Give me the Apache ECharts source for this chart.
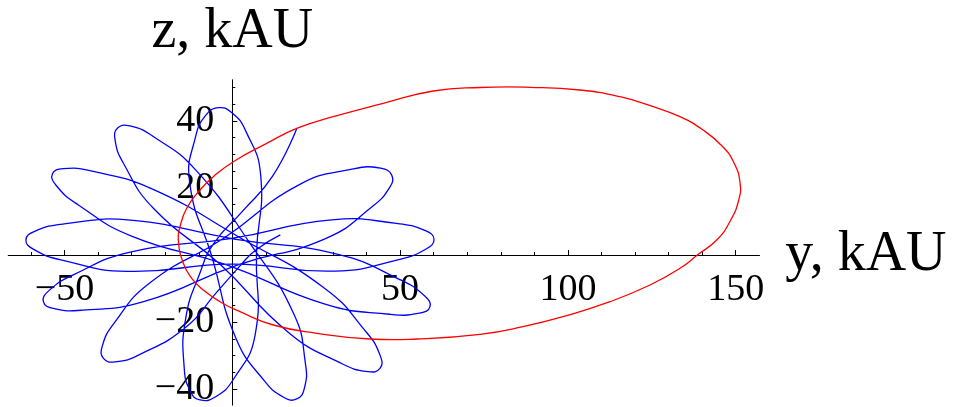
<!DOCTYPE html>
<html>
<head>
<meta charset="utf-8">
<script src="https://cdn.jsdelivr.net/npm/echarts@6/dist/echarts.min.js"></script>
<style>
  html, body { margin: 0; padding: 0; background: #ffffff; }
  #chart { width: 961px; height: 407px; }
</style>
</head>
<body>
<div id="chart"></div>
<script>
// Axis ticks (kAU)
const xMajorTicks = [-50, 50, 100, 150];
const xMinorTicks = [-60, -40, -30, -20, -10, 10, 20, 30, 40, 60, 70, 80, 90, 110, 120, 130, 140];
const yMajorTicks = [-40, -20, 20, 40];
const yMinorTicks = [-35, -30, -25, -15, -10, -5, 5, 10, 15, 25, 30, 35, 45, 50];

// Axis ranges (kAU)
const yRange = [-66.75, 157.03];
const zRange = [-44.7, 52.15];

// Rosette orbit before the transition (y, z in kAU), petal by petal
const blueTrack = [
  [14.3, 6.0], [7.0, 1.5], [2.5, -3.0], [-5.0, -11.5],
  [-13.78, -21.45], [-27.66, -29.70], [-34.95, -31.84], [-38.4, -30.8], [-38.77, -27.22], [-35.32, -20.46], [-24.62, -8.35],
  [-2.56, 5.00],
  [19.71, 20.83], [36.10, 25.65], [44.17, 25.87], [47.5, 23.8], [46.90, 20.18], [41.54, 14.29], [27.42, 4.73],
  [1.47, -2.99],
  [-26.20, -13.85], [-44.79, -16.44], [-53.36, -15.91], [-56.3, -13.9], [-54.74, -10.69], [-47.55, -6.00], [-30.10, 0.95],
  [-0.62, 4.85],
  [29.58, 10.48], [48.95, 9.42], [57.54, 7.24], [60.1, 4.7], [57.86, 1.86], [49.61, -1.36], [30.52, -4.78],
  [0.01, -2.70],
  [-31.19, -4.88], [-50.74, -1.52], [-59.19, 1.67], [-61.5, 4.5], [-58.89, 7.05], [-50.12, 9.26], [-30.31, 10.38],
  [0.62, 4.75],
  [31.51, 0.17], [49.75, -7.25], [57.27, -12.14], [58.9, -15.4], [55.81, -17.34], [46.85, -17.65], [27.39, -14.57],
  [-1.42, -3.01],
  [-29.84, 5.58], [-46.09, 15.06], [-52.53, 20.79], [-53.6, 24.2], [-50.39, 25.75], [-41.81, 24.98], [-23.76, 19.62],
  [2.44, 5.08],
  [27.27, -9.74], [39.80, -22.84], [44.10, -30.06], [44.0, -33.8], [40.38, -34.76], [32.36, -32.24], [16.73, -23.06],
  [-3.57, -2.85],
  [-23.30, 13.69], [-32.37, 27.19], [-34.95, 34.39], [-34.1, 37.9], [-30.53, 38.45], [-23.55, 35.33], [-10.80, 25.21],
  [4.81, 4.15],
  [18.16, -17.20], [21.79, -32.35], [21.45, -39.82], [19.2, -42.9], [15.41, -42.46], [9.69, -37.65], [1.04, -24.70],
  [-6.05, -0.58],
  [-12.68, 21.41], [-10.90, 35.44], [-7.76, 41.81], [-4.2, 43.9], [-0.30, 42.55], [4.02, 36.92], [8.48, 23.49],
  [7.2, 0.6],
  [6.83, -23.63], [0.34, -37.03], [-5.12, -42.32], [-9.6, -43.2], [-12.44, -40.73], [-14.32, -33.83], [-13.93, -19.11],
  [-9.5, -5.0], [-5.5, 3.5], [3.0, 13.0], [12.0, 23.5], [19.2, 37.7]
];

// Wide orbit after the transition (y, z in kAU); a closed loop starting where the rosette ends
const redTrack = [
  [19.19, 37.75], [30.10, 41.21], [44.99, 45.20], [59.89, 48.87], [73.81, 49.91],
  [88.71, 49.97], [103.61, 49.17], [115.52, 47.17], [125.45, 44.19], [133.40, 41.21],
  [140.27, 37.25], [145.93, 32.48], [149.51, 27.41], [151.30, 21.45], [150.90, 16.40],
  [148.40, 10.20], [144.34, 4.47], [138.86, 0.21], [133.40, -3.96], [124.46, -8.94],
  [112.54, -13.92], [98.54, -18.39], [86.62, -21.36], [73.81, -23.63], [54.95, -25.03],
  [41.03, -25.03], [25.15, -23.33], [12.22, -20.86], [2.29, -16.90], [-3.67, -13.92],
  [-8.64, -10.43], [-12.10, -6.94], [-14.60, -2.47], [-16.09, 4.47], [-15.58, 8.43],
  [-13.59, 13.92], [-9.62, 19.37], [-5.66, 23.33], [0.30, 27.80], [10.25, 33.28]
];

const serif = '"Liberation Serif", "Times New Roman", "DejaVu Serif", serif';
const minus = v => String(v).replace('-', '\u2212');
const black = { color: '#000', width: 1 };
const tickLabel = { color: '#000', fontFamily: serif, fontSize: 38, formatter: minus };
const axisTitle = { color: '#000', fontFamily: serif, fontSize: 56 };

// Plot frame and the positions where the two axes cross
const plotBox = { left: 8.3, right: 201.7, top: 80, bottom: 2 };
const zeroRowHeight = 175;   // from top of plot to the z = 0 line
const zeroColLeft = 232.3;   // from left of page to the y = 0 line

const hiddenValueAxis = (gridIndex, range) => ({
  type: 'value', gridIndex, min: range[0], max: range[1], show: false
});

// One smooth curve through all points of a track, mapped through the cartesian axes
function trackSeries(name, track, color, closed) {
  return {
    name, type: 'custom', coordinateSystem: 'cartesian2d', xAxisIndex: 0, yAxisIndex: 0,
    data: track, encode: { x: 0, y: 1 }, clip: false, silent: true,
    renderItem(params, api) {
      if (params.dataIndex !== 0) return null;
      return {
        type: closed ? 'polygon' : 'polyline',
        shape: { points: track.map(p => api.coord(p)), smooth: 0.5 },
        style: { fill: null, stroke: color, lineWidth: 1.3 }
      };
    }
  };
}

const chart = echarts.init(document.getElementById('chart'), null, { renderer: 'canvas' });

chart.setOption({
  animation: false,
  backgroundColor: '#ffffff',
  grid: [
    Object.assign({ containLabel: false, outerBoundsMode: 'none' }, plotBox),
    { left: plotBox.left, right: plotBox.right, top: plotBox.top, height: zeroRowHeight, containLabel: false, outerBoundsMode: 'none' },
    { left: zeroColLeft, width: 100, top: plotBox.top, bottom: plotBox.bottom, containLabel: false, outerBoundsMode: 'none' }
  ],
  xAxis: [
    hiddenValueAxis(0, yRange),
    {
      type: 'value', gridIndex: 1, min: yRange[0], max: yRange[1], position: 'bottom',
      axisLine: { onZero: false, lineStyle: black },
      axisTick: { inside: true, length: 5, customValues: xMajorTicks, lineStyle: black },
      axisLabel: Object.assign({ customValues: xMajorTicks, margin: 16 }, tickLabel),
      splitLine: { show: false },
      name: 'y, kAU', nameLocation: 'end', nameGap: 26,
      nameTextStyle: Object.assign({ padding: [8, 0, 0, 0] }, axisTitle)
    },
    {
      type: 'value', gridIndex: 1, min: yRange[0], max: yRange[1], position: 'bottom',
      axisLine: { onZero: false, lineStyle: black },
      axisTick: { inside: true, length: 3, customValues: xMinorTicks, lineStyle: black },
      axisLabel: { show: false },
      splitLine: { show: false }
    },
    hiddenValueAxis(2, [0, 1])
  ],
  yAxis: [
    hiddenValueAxis(0, zRange),
    hiddenValueAxis(1, [0, 1]),
    {
      type: 'value', gridIndex: 2, min: zRange[0], max: zRange[1], position: 'left',
      axisLine: { onZero: false, lineStyle: black },
      axisTick: { inside: true, length: 5, customValues: yMajorTicks, lineStyle: black },
      axisLabel: Object.assign({ customValues: yMajorTicks, margin: 18, padding: [4, 0, 0, 0] }, tickLabel),
      splitLine: { show: false },
      name: 'z, kAU', nameLocation: 'end', nameGap: 20,
      nameTextStyle: axisTitle
    },
    {
      type: 'value', gridIndex: 2, min: zRange[0], max: zRange[1], position: 'left',
      axisLine: { onZero: false, lineStyle: black },
      axisTick: { inside: true, length: 3, customValues: yMinorTicks, lineStyle: black },
      axisLabel: { show: false },
      splitLine: { show: false }
    }
  ],
  series: [
    trackSeries('rosette', blueTrack, '#0000ff', false),
    trackSeries('wide orbit', redTrack, '#ff0000', true)
  ]
});
</script>
</body>
</html>
